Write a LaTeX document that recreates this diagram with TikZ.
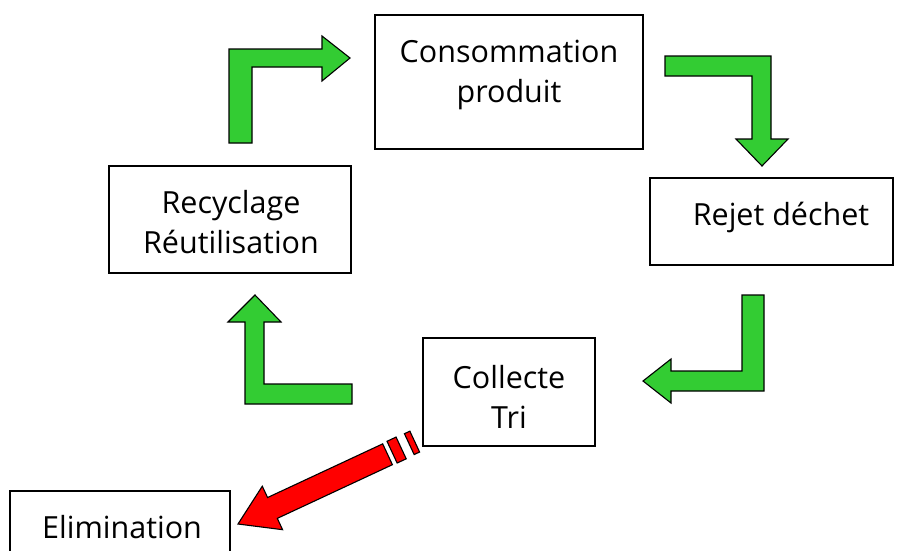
\documentclass[tikz,border=0pt]{standalone}
\usepackage{fontspec}
\setmainfont{Open Sans}
\definecolor{arrowgreen}{RGB}{51,204,51}
\definecolor{arrowred}{RGB}{255,0,0}
\tikzset{
  box/.style={draw=black, line width=1.6pt, fill=white, inner sep=0pt},
  lbl/.style={font=\fontsize{30.5}{40}\selectfont, align=center, inner sep=0pt, text=black},
  garrow/.style={fill=arrowgreen, draw=black, line width=1.1pt, line join=miter},
  rarrow/.style={fill=arrowred, draw=black, line width=1.1pt, line join=miter},
}
\begin{document}
\begin{tikzpicture}[x=1pt,y=-1pt]
\useasboundingbox (0,0) rectangle (907,550);
\fill[white] (0,0) rectangle (907,550);

% boxes
\node[box, minimum width=268pt, minimum height=134pt] (cons) at (509,82) {};
\node[box, minimum width=243pt, minimum height=87pt] (rejet) at (771.5,221.5) {};
\node[box, minimum width=172pt, minimum height=108pt] (coll) at (509,392) {};
\node[box, minimum width=242pt, minimum height=107pt] (recy) at (230,219.5) {};
\node[box, minimum width=220pt, minimum height=70pt] (elim) at (120,526) {};

% labels
\node[lbl] (consT) at (509,75) {Consommation\\produit};
\node[lbl] (rejetT) at (781,217) {Rejet déchet};
\node[lbl] (collT) at (509,397) {Collecte\\Tri};
\node[lbl] (recyT) at (231,222) {Recyclage\\Réutilisation};
\node[lbl] (elimT) at (122,527) {Elimination};

% green arrows
\draw[garrow] (229,143) -- (229,49) -- (322,49) -- (322,36) -- (350,58) -- (322,81) -- (322,67) -- (252,67) -- (252,143) -- cycle;
\draw[garrow] (665,56) -- (771,56) -- (771,139) -- (788,139) -- (762,166) -- (736,139) -- (752,139) -- (752,76) -- (665,76) -- cycle;
\draw[garrow] (742,295) -- (764,295) -- (764,391) -- (671,391) -- (671,403) -- (643,381) -- (671,359) -- (671,371) -- (742,371) -- cycle;
\draw[garrow] (245,404) -- (352,404) -- (352,384) -- (264,384) -- (264,322) -- (281,322) -- (255,295) -- (228,322) -- (245,322) -- cycle;

% red arrow
\begin{scope}[shift={(238,524)}, rotate=25]
  \draw[rarrow] (0,0) -- (38,-24) -- (38,-11.5) -- (165,-11.5) -- (165,11.5) -- (38,11.5) -- (38,24) -- cycle;
  \draw[rarrow] (170,-12) rectangle (180,12);
  \draw[rarrow] (189,-11.5) rectangle (195,11.5);
\end{scope}
\end{tikzpicture}
\end{document}
